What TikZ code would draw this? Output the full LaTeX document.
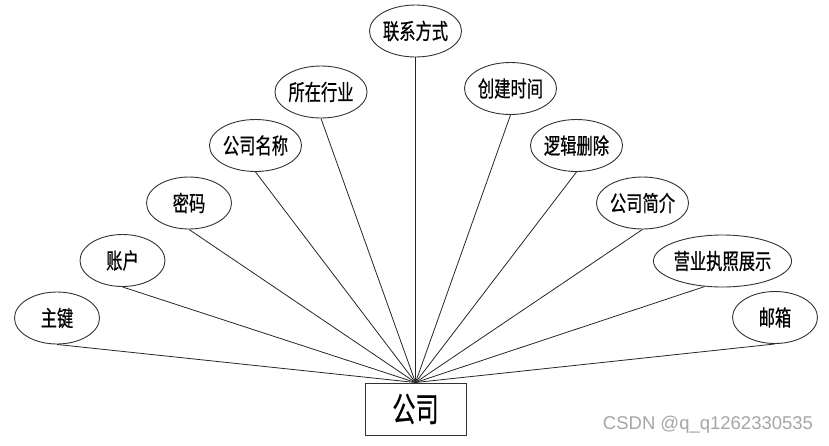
\documentclass[tikz,border=0pt]{standalone}
\usepackage{fontspec}
\usetikzlibrary{shapes.geometric}
\newfontfamily\attrfont[FakeStretch=0.74,FakeBold=0.6]{Noto Sans CJK SC}
\newfontfamily\entfont[FakeStretch=0.68,FakeBold=0.6]{Noto Sans CJK SC}
\newfontfamily\markfont{Liberation Sans}
\begin{document}
\begin{tikzpicture}[x=1pt,y=-1pt]
        \tikzstyle{every node}+=[inner sep=0pt]
        \tikzstyle{attr}=[draw=black!80, line width=0.9pt, ellipse, minimum width=85pt, minimum height=52pt, font=\attrfont\fontsize{22}{22}\selectfont]
        \tikzstyle{entity}=[draw=black!80, line width=1pt, rectangle, minimum width=101pt, minimum height=52pt, font=\entfont\fontsize{34}{34}\selectfont]
        \tikzstyle{link}=[draw=black!85, line width=0.8pt]
        \useasboundingbox (0,0) rectangle (829,445);
        \node [entity] (gs) at (415.5,409) {公司};
        \node [attr] (zj) at (57,318) {主键};
        \node [attr] (zh) at (122.5,260.5) {账户};
        \node [attr] (mm) at (189,203) {密码};
        \node [attr] (gsmc) at (255.5,145.5) {公司名称};
        \node [attr] (szhy) at (321,92) {所在行业};
        \node [attr] (lxfs) at (415.5,31) {联系方式};
        \node [attr] (cjsj) at (510.5,88.5) {创建时间};
        \node [attr] (ljsc) at (576.5,145.5) {逻辑删除};
        \node [attr] (gsjj) at (642.5,203) {公司简介};
        \node [attr, minimum width=111pt] (yyzz) at (722.5,261) {营业执照展示};
        \node [attr] (yx) at (775,317.5) {邮箱};
        \foreach \a in {zj,zh,mm,gsmc,szhy,lxfs,cjsj,ljsc,gsjj,yx}
          \draw [link] (\a.south) -- (gs.north);
        \draw [link] (yyzz.235) -- (gs.north);
        \node [font=\markfont\fontsize{18.5}{18.5}\selectfont, text=black!35] (wm) at (708,425) {CSDN @q\_q1262330535};
\end{tikzpicture}
\end{document}
